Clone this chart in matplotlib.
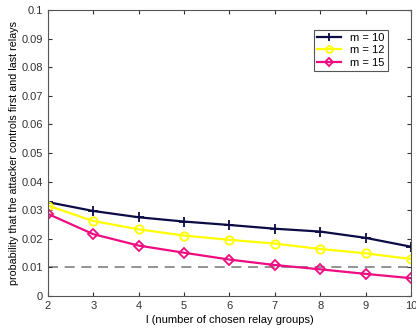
import matplotlib
matplotlib.use("Agg")
import matplotlib.pyplot as plt

plt.rcParams['font.family'] = ['Liberation Sans', 'DejaVu Sans']

l_values = [2, 3, 4, 5, 6, 7, 8, 9, 10]
m10 = [0.0328, 0.0297, 0.0275, 0.0260, 0.0248, 0.0235, 0.0225, 0.0203, 0.0172]
m12 = [0.0316, 0.0262, 0.0233, 0.0211, 0.0196, 0.0183, 0.0164, 0.0149, 0.0129]
m15 = [0.0287, 0.0216, 0.0176, 0.0151, 0.0127, 0.0108, 0.0093, 0.0077, 0.0062]
threshold = 0.01
labels = ['m = 10', 'm = 12', 'm = 15']

fig = plt.figure(figsize=(4.16, 3.31), dpi=100)
ax = fig.add_axes([0.115, 0.106, 0.873, 0.864])

ax.axhline(threshold, color='#808080', linestyle=(0, (6, 4)), linewidth=1.2, zorder=1)
ax.plot(l_values, m10, color='#0b0b45', marker='+', markersize=7, markeredgewidth=1.3, linewidth=1.6, label=labels[0])
ax.plot(l_values, m12, color='#ffff00', marker='o', markersize=6, markerfacecolor='none', markeredgewidth=1.3, linewidth=1.6, label=labels[1])
ax.plot(l_values, m15, color='#ee0c80', marker='D', markersize=5, markerfacecolor='none', markeredgewidth=1.3, linewidth=1.6, label=labels[2])

ax.set_xlim(2, 10)
ax.set_ylim(0, 0.1)
ax.set_xticks(range(2, 11))
ax.set_yticks([0, 0.01, 0.02, 0.03, 0.04, 0.05, 0.06, 0.07, 0.08, 0.09, 0.1])
ax.set_yticklabels(['0', '0.01', '0.02', '0.03', '0.04', '0.05', '0.06', '0.07', '0.08', '0.09', '0.1'])
ax.tick_params(direction='in', top=True, right=True, labelsize=8, length=3, colors='#333333')
for s in ax.spines.values():
    s.set_color('#555555')
    s.set_linewidth(0.8)

ax.set_xlabel('l (number of chosen relay groups)', fontsize=8, labelpad=3)
ax.set_ylabel('probability that the attacker controls first and last relays', fontsize=7.7, labelpad=2)

leg = ax.legend(loc='upper right', bbox_to_anchor=(0.952, 0.95), fontsize=8, fancybox=False,
                edgecolor='#555555', framealpha=1, handlelength=2.2, borderpad=0.3, labelspacing=0.2,
                markerscale=0.8)
leg.get_frame().set_linewidth(0.8)

fig.savefig('out.png', dpi=100)
